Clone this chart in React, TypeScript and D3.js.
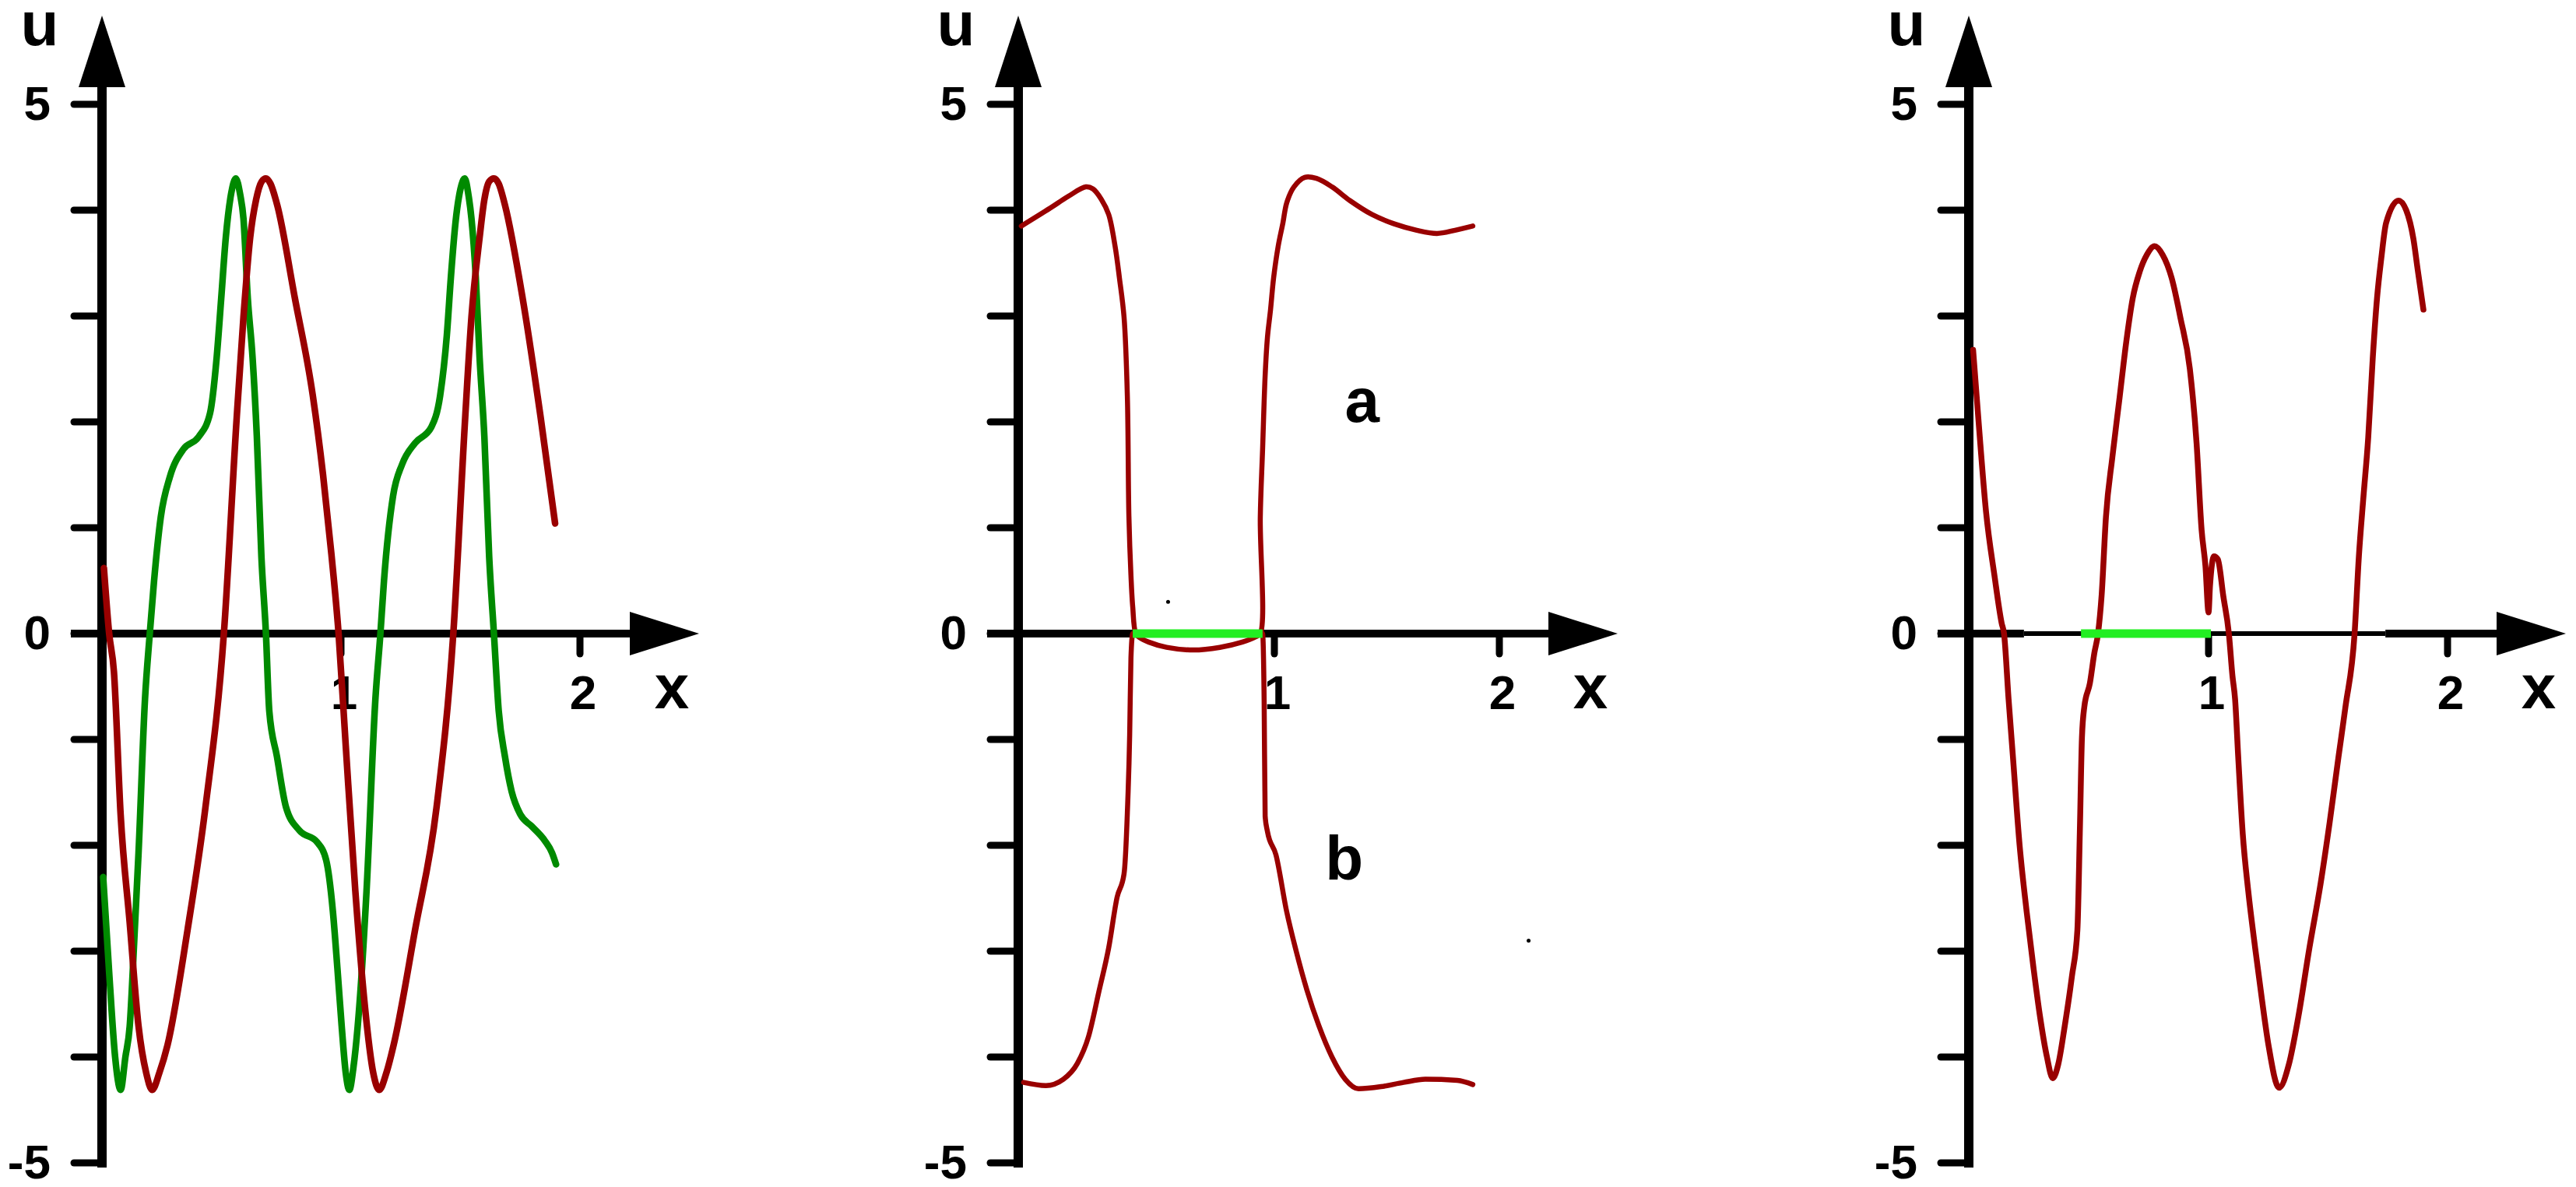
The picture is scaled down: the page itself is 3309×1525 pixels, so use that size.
import React from 'react';
import * as d3 from 'd3';

const W = 3309;
const H = 1525;

// u axis: ticks at every integer, labels only on 5, 0, -5
const uTicks = [5, 4, 3, 2, 1, 0, -1, -2, -3, -4, -5];
const uTickLabels = [5, 0, -5];
const xTicks = [1, 2];

// panel 1 (left): red and green waves, [x, u]
const p1Red: [number, number][] = [
  [0.008, 0.62], [0.03, 0.0], [0.05, -0.36], [0.078, -1.71], [0.116, -2.73], [0.153, -3.71],
  [0.185, -4.15], [0.21, -4.31], [0.24, -4.15], [0.274, -3.89], [0.358, -2.8], [0.433, -1.64],
  [0.51, 0], [0.564, 2.05], [0.592, 2.99], [0.62, 3.74], [0.645, 4.1], [0.668, 4.27], [0.686, 4.3],
  [0.705, 4.25], [0.733, 4.05], [0.807, 3.17], [0.882, 2.25], [0.925, 1.5], [0.96, 0.75], [0.99, 0],
  [1.02, -1.06], [1.06, -2.43], [1.1, -3.52], [1.135, -4.15], [1.16, -4.31], [1.19, -4.15],
  [1.22, -3.89], [1.31, -2.8], [1.4, -1.64], [1.47, 0], [1.52, 2.05], [1.546, 2.99], [1.58, 3.74],
  [1.6, 4.1], [1.62, 4.27], [1.64, 4.3], [1.66, 4.25], [1.686, 4.05], [1.76, 3.17], [1.835, 2.05],
  [1.896, 1.04],
];
const p1Green: [number, number][] = [
  [0.005, -2.3], [0.03, -3.2], [0.055, -4.0], [0.078, -4.31], [0.098, -4.0], [0.116, -3.71],
  [0.135, -2.9], [0.153, -2.07], [0.18, -0.62], [0.2, 0.0], [0.218, 0.5], [0.246, 1.1], [0.284, 1.48],
  [0.34, 1.74], [0.405, 1.86], [0.452, 2.08], [0.48, 2.61], [0.499, 3.17], [0.518, 3.74], [0.54, 4.15],
  [0.56, 4.3], [0.578, 4.15], [0.592, 3.92], [0.61, 3.17], [0.63, 2.61], [0.648, 1.86], [0.667, 0.73],
  [0.686, 0], [0.7, -0.73], [0.732, -1.16], [0.77, -1.64], [0.826, -1.86], [0.9, -1.97], [0.938, -2.14],
  [0.966, -2.62], [0.985, -3.16], [1.003, -3.71], [1.02, -4.15], [1.035, -4.31], [1.052, -4.1],
  [1.07, -3.71], [1.107, -2.43], [1.144, -0.62], [1.165, 0], [1.18, 0.5], [1.218, 1.3], [1.256, 1.6],
  [1.31, 1.8], [1.378, 1.95], [1.415, 2.25], [1.443, 2.82], [1.46, 3.37], [1.48, 3.9], [1.5, 4.2],
  [1.518, 4.3], [1.533, 4.15], [1.546, 3.92], [1.564, 3.37], [1.58, 2.61], [1.6, 1.86], [1.62, 0.73],
  [1.64, 0], [1.66, -0.73], [1.686, -1.16], [1.714, -1.49], [1.751, -1.71], [1.798, -1.82],
  [1.854, -1.96], [1.883, -2.07], [1.9, -2.18],
];

// panel 2 (middle): upper branch a, lower branch b
const p2A: [number, number][] = [
  [0.012, 3.85], [0.125, 4.02], [0.195, 4.13], [0.264, 4.22], [0.292, 4.2], [0.325, 4.1], [0.353, 3.96],
  [0.378, 3.66], [0.395, 3.36], [0.413, 2.99], [0.426, 2.24], [0.432, 1.11], [0.44, 0.55], [0.447, 0.25],
  [0.459, 0], [0.475, -0.04], [0.509, -0.08], [0.579, -0.13], [0.684, -0.155], [0.787, -0.13],
  [0.875, -0.08], [0.927, -0.03], [0.945, 0], [0.945, 1.1], [0.954, 1.74], [0.964, 2.44], [0.973, 2.8],
  [0.985, 3.06], [0.997, 3.36], [1.017, 3.66], [1.038, 3.88], [1.055, 4.07], [1.087, 4.22],
  [1.135, 4.31], [1.187, 4.3], [1.256, 4.22], [1.336, 4.09], [1.433, 3.96], [1.533, 3.87],
  [1.633, 3.81], [1.723, 3.78], [1.803, 3.81], [1.882, 3.85],
];
const p2B: [number, number][] = [
  [0.021, -4.24], [0.108, -4.27], [0.176, -4.21], [0.231, -4.06], [0.274, -3.81], [0.316, -3.37],
  [0.353, -2.97], [0.386, -2.49], [0.413, -2.27], [0.426, -1.69], [0.435, -0.96], [0.44, -0.23],
  [0.447, 0], [0.954, 0], [0.96, -0.63], [0.964, -1.73], [0.973, -1.87], [1.007, -2.09], [1.055, -2.63],
  [1.097, -3.0], [1.145, -3.37], [1.197, -3.7], [1.256, -4.0], [1.315, -4.21], [1.374, -4.3],
  [1.474, -4.28], [1.574, -4.24], [1.671, -4.21], [1.813, -4.22], [1.882, -4.26],
];
const p2Zero: [number, number] = [0.447, 0.954];
const p2Dots: [number, number][] = [[0.585, 0.3], [2.13, -2.9]];

// panel 3 (right)
const p3Red: [number, number][] = [
  [0.018, 2.68], [0.042, 1.97], [0.072, 1.15], [0.107, 0.55], [0.137, 0.1], [0.147, 0], [0.166, -0.62],
  [0.184, -1.16], [0.212, -2.0], [0.241, -2.62], [0.27, -3.16], [0.296, -3.6], [0.326, -4.0],
  [0.35, -4.2], [0.373, -4.07], [0.4, -3.71], [0.43, -3.24], [0.453, -2.8], [0.463, -1.89],
  [0.472, -0.98], [0.482, -0.69], [0.505, -0.47], [0.524, -0.18], [0.539, 0], [0.554, 0.36],
  [0.572, 1.1], [0.599, 1.67], [0.629, 2.23], [0.657, 2.76], [0.684, 3.17], [0.713, 3.42],
  [0.743, 3.58], [0.775, 3.66], [0.808, 3.58], [0.846, 3.36], [0.883, 2.98], [0.922, 2.5],
  [0.95, 1.8], [0.971, 0.98], [0.987, 0.64], [1.0, 0.2], [1.006, 0.45], [1.023, 0.73], [1.039, 0.7],
  [1.062, 0.35], [1.085, 0], [1.1, -0.4], [1.111, -0.62], [1.124, -1.16], [1.143, -1.89],
  [1.166, -2.43], [1.195, -2.97], [1.223, -3.45], [1.251, -3.89], [1.295, -4.29], [1.336, -4.07],
  [1.375, -3.63], [1.422, -2.97], [1.469, -2.36], [1.507, -1.78], [1.544, -1.16], [1.573, -0.69],
  [1.611, 0], [1.629, 0.73], [1.648, 1.29], [1.668, 1.85], [1.687, 2.6], [1.705, 3.17], [1.723, 3.55],
  [1.743, 3.88], [1.795, 4.09], [1.827, 4.0], [1.857, 3.73], [1.875, 3.44], [1.899, 3.06],
];
const p3Zero: [number, number] = [0.468, 1.01];

const RED = '#990000';
const DARK_GREEN = '#008a00';
const LIME = '#22ee22';
const FONT = '"Liberation Sans", Arial, sans-serif';

const yScale = d3.scaleLinear().domain([-5, 5]).range([1494, 134]);
const Y0 = yScale(0);

type Series = { data: [number, number][]; color: string; width: number; curve: d3.CurveFactory };
type Panel = {
  xDomain: number[];
  xRange: number[];
  tipX: number;
  series: Series[];
  zero?: [number, number];
  thin?: [number, number];
  dots?: [number, number][];
  labels?: { text: string; x: number; u: number }[];
};

const smooth = d3.curveMonotoneX;
const free = d3.curveCatmullRom.alpha(0.5);

const panels: Panel[] = [
  {
    xDomain: [0, 1, 2],
    xRange: [131, 438, 745],
    tipX: 898,
    series: [
      { data: p1Green, color: DARK_GREEN, width: 8.5, curve: smooth },
      { data: p1Red, color: RED, width: 8.5, curve: smooth },
    ],
  },
  {
    xDomain: [0, 1, 2],
    xRange: [1308, 1637, 1926],
    tipX: 2078,
    series: [
      { data: p2A, color: RED, width: 6.5, curve: free },
      { data: p2B, color: RED, width: 6.5, curve: smooth },
    ],
    zero: p2Zero,
    dots: p2Dots,
    labels: [
      { text: 'a', x: 1.39, u: 2.0 },
      { text: 'b', x: 1.31, u: -2.32 },
    ],
  },
  {
    xDomain: [0, 1, 2],
    xRange: [2529, 2837, 3144],
    tipX: 3296,
    series: [{ data: p3Red, color: RED, width: 7.5, curve: smooth }],
    zero: p3Zero,
    thin: [0.23, 1.74],
  },
];

const PanelView = ({ p }: { p: Panel }) => {
  const x = d3.scaleLinear().domain(p.xDomain).range(p.xRange);
  const x0 = x(0);
  const arrowBase = p.tipX - 89;

  // x axis pieces (panel 3 has a thinner middle part)
  const axisSegs: { a: number; b: number; w: number }[] = p.thin
    ? [
        { a: x0 - 40, b: x(p.thin[0]), w: 10 },
        { a: x(p.thin[0]), b: x(p.thin[1]), w: 6 },
        { a: x(p.thin[1]), b: arrowBase + 2, w: 10 },
      ]
    : [{ a: x0 - 40, b: arrowBase + 2, w: 10 }];

  return (
    <g>
      {/* u axis */}
      <line x1={x0} x2={x0} y1={1500} y2={60} stroke="#000" strokeWidth={12} />
      <polygon points={`${x0},20 ${x0 - 30},112 ${x0 + 30},112`} fill="#000" />
      {uTicks.map((t) => (
        <line
          key={t}
          x1={x0 - 36}
          x2={x0}
          y1={yScale(t)}
          y2={yScale(t)}
          stroke="#000"
          strokeWidth={9}
          strokeLinecap="round"
        />
      ))}
      {uTickLabels.map((t) => (
        <text
          key={t}
          x={x0 - 66}
          y={yScale(t) + 20}
          textAnchor="end"
          fontFamily={FONT}
          fontWeight="bold"
          fontSize={62}
        >
          {t}
        </text>
      ))}
      <text x={x0 - 80} y={58} textAnchor="middle" fontFamily={FONT} fontWeight="bold" fontSize={80}>
        u
      </text>

      {/* x axis */}
      {axisSegs.map((s, i) => (
        <line key={i} x1={s.a} x2={s.b} y1={Y0} y2={Y0} stroke="#000" strokeWidth={s.w} />
      ))}
      <polygon
        points={`${p.tipX},${Y0} ${arrowBase},${Y0 - 28} ${arrowBase},${Y0 + 28}`}
        fill="#000"
      />
      {xTicks.map((t) => (
        <g key={t}>
          <line
            x1={x(t)}
            x2={x(t)}
            y1={Y0}
            y2={Y0 + 26}
            stroke="#000"
            strokeWidth={9}
            strokeLinecap="round"
          />
          <text
            x={x(t) + 4}
            y={911}
            textAnchor="middle"
            fontFamily={FONT}
            fontWeight="bold"
            fontSize={62}
          >
            {t}
          </text>
        </g>
      ))}
      <text x={p.tipX - 35} y={910} textAnchor="middle" fontFamily={FONT} fontWeight="bold" fontSize={80}>
        x
      </text>

      {/* curves */}
      {p.series.map((s, i) => {
        const line = d3
          .line<[number, number]>()
          .x((d) => x(d[0]))
          .y((d) => yScale(d[1]))
          .curve(s.curve);
        return (
          <path
            key={i}
            d={line(s.data) ?? ''}
            fill="none"
            stroke={s.color}
            strokeWidth={s.width}
            strokeLinejoin="round"
            strokeLinecap="round"
          />
        );
      })}
      {p.zero && (
        <line x1={x(p.zero[0])} x2={x(p.zero[1])} y1={Y0} y2={Y0} stroke={LIME} strokeWidth={11} />
      )}
      {p.dots?.map((d, i) => (
        <circle key={i} cx={x(d[0])} cy={yScale(d[1])} r={2.5} fill="#000" />
      ))}
      {p.labels?.map((l) => (
        <text
          key={l.text}
          x={x(l.x)}
          y={yScale(l.u)}
          textAnchor="middle"
          fontFamily={FONT}
          fontWeight="bold"
          fontSize={80}
        >
          {l.text}
        </text>
      ))}
    </g>
  );
};

export default function App() {
  return (
    <svg
      width={W}
      height={H}
      viewBox={`0 0 ${W} ${H}`}
      style={{ position: 'fixed', left: 0, top: 0, background: '#fff' }}
    >
      <rect width={W} height={H} fill="#fff" />
      {panels.map((p, i) => (
        <PanelView key={i} p={p} />
      ))}
    </svg>
  );
}
